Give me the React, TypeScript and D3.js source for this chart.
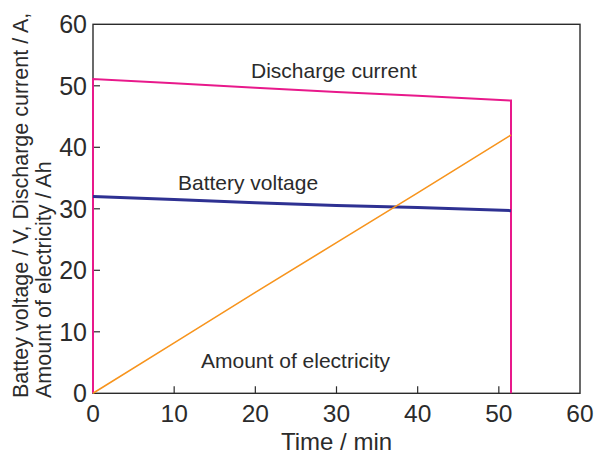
import { useEffect, useRef } from "react";
import * as d3 from "d3";

const xTicks = [0, 10, 20, 30, 40, 50, 60];
const yTicks = [0, 10, 20, 30, 40, 50, 60];

const time = [0, 10, 20, 30, 40, 51.5];
const current = [51.1, 50.4, 49.7, 49.0, 48.4, 47.6];
const voltage = [32.0, 31.5, 31.0, 30.55, 30.2, 29.7];
const electricity = [0, 8.2, 16.4, 24.5, 32.6, 42.0];

export default function App() {
  const ref = useRef<SVGSVGElement>(null);

  useEffect(() => {
    const left = 93, right = 580, top = 24.3, bottom = 393.3;

    const svg = d3.select(ref.current);
    svg.selectAll("*").remove();

    const x = d3.scaleLinear([0, 60], [left, right]);
    const y = d3.scaleLinear([0, 60], [bottom, top]);
    const font = "Arial, 'Liberation Sans', sans-serif";
    const ink = "#2b2b2b";

    // frame
    svg.append("rect")
      .attr("x", left).attr("y", top)
      .attr("width", right - left).attr("height", bottom - top)
      .attr("fill", "none").attr("stroke", ink).attr("stroke-width", 1.4);

    // ticks pointing inwards
    svg.append("g").selectAll("line").data(xTicks.slice(1, -1)).join("line")
      .attr("x1", d => x(d)).attr("x2", d => x(d))
      .attr("y1", bottom).attr("y2", bottom - 7)
      .attr("stroke", ink).attr("stroke-width", 1.2);
    svg.append("g").selectAll("line").data(yTicks.slice(1, -1)).join("line")
      .attr("x1", left).attr("x2", left + 7)
      .attr("y1", d => y(d)).attr("y2", d => y(d))
      .attr("stroke", ink).attr("stroke-width", 1.2);

    svg.append("g").selectAll("text").data(xTicks).join("text")
      .attr("x", d => x(d)).attr("y", 422)
      .attr("text-anchor", "middle")
      .attr("font-family", font).attr("font-size", 24.5).attr("fill", ink)
      .text(d => d);
    svg.append("g").selectAll("text").data(yTicks).join("text")
      .attr("x", 87).attr("y", d => y(d) + 9)
      .attr("text-anchor", "end")
      .attr("font-family", font).attr("font-size", 25).attr("fill", ink)
      .text(d => d);

    svg.append("text")
      .attr("x", (left + right) / 2).attr("y", 449.5)
      .attr("text-anchor", "middle")
      .attr("font-family", font).attr("font-size", 24).attr("fill", ink)
      .text("Time / min");

    const yLabel = svg.append("g").attr("transform", "translate(0,398) rotate(-90)")
      .attr("font-family", font).attr("font-size", 21.5).attr("fill", ink);
    yLabel.append("text").attr("x", 0).attr("y", 28)
      .text("Battey voltage / V, Discharge current / A,");
    yLabel.append("text").attr("x", 0).attr("y", 51)
      .text("Amount of electricity / Ah");

    const line = d3.line<[number, number]>()
      .x(d => x(d[0])).y(d => y(d[1]));

    const pts = (vals: number[]) => time.map((t, i) => [t, vals[i]] as [number, number]);
    const tEnd = time[time.length - 1];

    // current drawn with its vertical start and end segments
    svg.append("path").attr("d", line([[0, 0], ...pts(current), [tEnd, 0]]))
      .attr("fill", "none").attr("stroke", "#e8198b").attr("stroke-width", 2);

    svg.append("path").attr("d", line(pts(voltage)))
      .attr("fill", "none").attr("stroke", "#2e3192").attr("stroke-width", 3);

    svg.append("path").attr("d", line(pts(electricity)))
      .attr("fill", "none").attr("stroke", "#f7941d").attr("stroke-width", 1.6);

    const lbl = (t: string, px: number, py: number) =>
      svg.append("text").attr("x", px).attr("y", py)
        .attr("font-family", font).attr("font-size", 21).attr("fill", ink).text(t);
    lbl("Discharge current", 251, 78);
    lbl("Battery voltage", 178, 190);
    lbl("Amount of electricity", 201, 368);
  }, []);

  return (
    <svg ref={ref} width={597} height={453}
      style={{ position: "absolute", left: 0, top: 0, background: "#fff" }} />
  );
}
